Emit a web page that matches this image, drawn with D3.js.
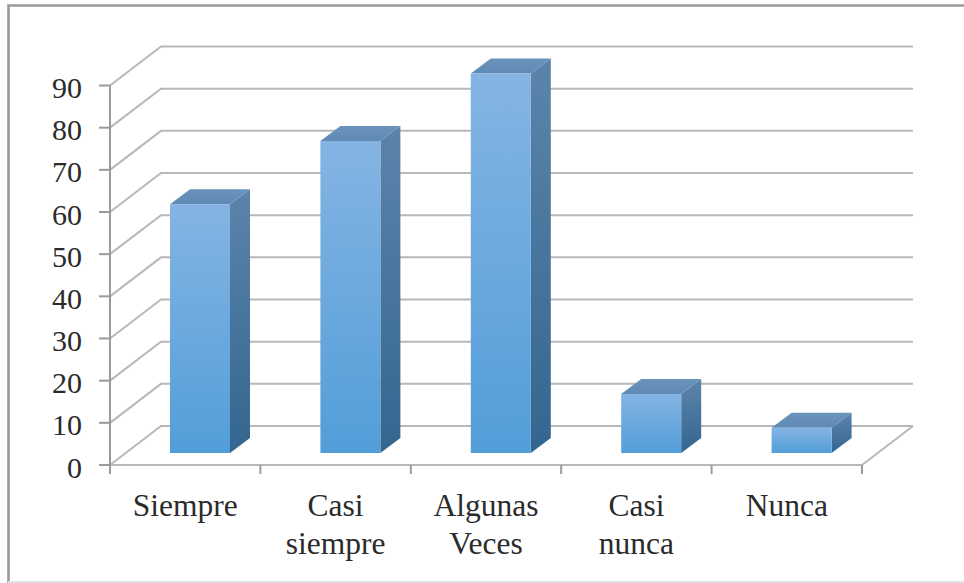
<!DOCTYPE html>
<html>
<head>
<meta charset="utf-8">
<script src="https://cdn.jsdelivr.net/npm/d3@7/dist/d3.min.js"></script>
<style>
html, body { margin: 0; padding: 0; background: #fff; }
svg { display: block; }
text { font-family: "Liberation Serif", serif; fill: #2b2b2b; }
</style>
</head>
<body>
<svg id="chart" width="964" height="583"></svg>
<script>
const categories = [["Siempre"], ["Casi", "siempre"], ["Algunas", "Veces"], ["Casi", "nunca"], ["Nunca"]];
const values = [59, 74, 90, 14, 6];
const tickValues = [0, 10, 20, 30, 40, 50, 60, 70, 80, 90];

const width = 964, height = 583;
const svg = d3.select("#chart");

// Floor-front corner of the 3D plot box and the depth offset of its back wall
const frontLeft = 110, frontRight = 862, frontBase = 465, frontTop = 85.5;
const depthX = 51, depthY = -39;

const x = d3.scaleBand().domain(d3.range(categories.length)).range([frontLeft, frontRight]);
const y = d3.scaleLinear().domain([0, 90]).range([frontBase, frontTop]);

// Bars stand part-way into the floor depth
const barWidth = 60, barDepthX = 20, barDepthY = -15;
const barInset = 60, barLift = 12;

const defs = svg.append("defs");
function vGrad(id, top, bottom) {
  const g = defs.append("linearGradient").attr("id", id)
    .attr("x1", 0).attr("y1", 0).attr("x2", 0).attr("y2", 1);
  g.append("stop").attr("offset", 0).attr("stop-color", top);
  g.append("stop").attr("offset", 1).attr("stop-color", bottom);
}

// Outer frame: heavy top and left edges, faint bottom edge
const frame = svg.append("g").attr("fill", "none");
frame.append("path").attr("stroke", "#999").attr("stroke-width", 2.6)
  .attr("d", d3.line()([[8.5, height], [8.5, 5.5], [width, 5.5]]));
frame.append("line").attr("stroke", "#e2e2e2").attr("stroke-width", 2)
  .attr("x1", 8).attr("x2", width).attr("y1", 582).attr("y2", 582);

// Back-wall gridlines with their side-wall diagonals
const grid = svg.append("g").attr("fill", "none").attr("stroke", "#b8b8b8").attr("stroke-width", 2);
grid.selectAll("path").data(tickValues).join("path")
  .attr("d", d => d3.line()([
    [frontLeft, y(d)],
    [frontLeft + depthX, y(d) + depthY],
    [frontRight + depthX, y(d) + depthY]
  ]));
// Floor edges
grid.append("path").attr("d", d3.line()([
  [frontRight + depthX, y(0) + depthY],
  [frontRight, y(0)],
  [frontLeft, y(0)]
]));

// Vertical axis with outward ticks
const axisG = svg.append("g").attr("fill", "none").attr("stroke", "#9a9a9a").attr("stroke-width", 2);
axisG.append("line").attr("x1", frontLeft).attr("x2", frontLeft).attr("y1", y(90)).attr("y2", y(0) + 9);
axisG.selectAll(".ytick").data(tickValues).join("line").attr("class", "ytick")
  .attr("x1", frontLeft - 11).attr("x2", frontLeft)
  .attr("y1", d => y(d)).attr("y2", d => y(d));
axisG.selectAll(".xtick").data(d3.range(categories.length + 1)).join("line").attr("class", "xtick")
  .attr("x1", d => frontLeft + d * x.bandwidth()).attr("x2", d => frontLeft + d * x.bandwidth())
  .attr("y1", y(0)).attr("y2", y(0) + 9);

svg.append("g").selectAll("text").data(tickValues).join("text")
  .attr("x", 82).attr("y", d => y(d) + 12.5)
  .attr("text-anchor", "end").attr("font-size", 30).text(d => d);

// Bars: side face, top face, front face
vGrad("frontFace", "#85b4e3", "#529ed9");
vGrad("sideFace", "#5c84ab", "#33668f");
vGrad("topFace", "#6a93bb", "#5f8ab4");

const bars = svg.append("g").selectAll("g").data(values).join("g");
const barLeft = i => x(i) + barInset;
const barBase = frontBase - barLift;
const barTop = v => barBase - (y(0) - y(v));

bars.append("path").attr("fill", "url(#sideFace)")
  .attr("d", (v, i) => d3.line()([
    [barLeft(i) + barWidth, barTop(v)],
    [barLeft(i) + barWidth + barDepthX, barTop(v) + barDepthY],
    [barLeft(i) + barWidth + barDepthX, barBase + barDepthY],
    [barLeft(i) + barWidth, barBase]
  ]) + "Z");
bars.append("path").attr("fill", "url(#topFace)")
  .attr("d", (v, i) => d3.line()([
    [barLeft(i), barTop(v)],
    [barLeft(i) + barDepthX, barTop(v) + barDepthY],
    [barLeft(i) + barWidth + barDepthX, barTop(v) + barDepthY],
    [barLeft(i) + barWidth, barTop(v)]
  ]) + "Z");
bars.append("rect").attr("fill", "url(#frontFace)")
  .attr("x", (v, i) => barLeft(i)).attr("y", v => barTop(v))
  .attr("width", barWidth).attr("height", v => barBase - barTop(v));

// Category labels, wrapped onto two lines where needed
const labels = svg.append("g").selectAll("text").data(categories).join("text")
  .attr("text-anchor", "middle").attr("font-size", 31.5);
labels.selectAll("tspan").data((d, i) => d.map(line => ({ line, i }))).join("tspan")
  .attr("x", d => x(d.i) + x.bandwidth() / 2)
  .attr("y", (d, j) => 516 + j * 38)
  .text(d => d.line);
</script>
</body>
</html>
